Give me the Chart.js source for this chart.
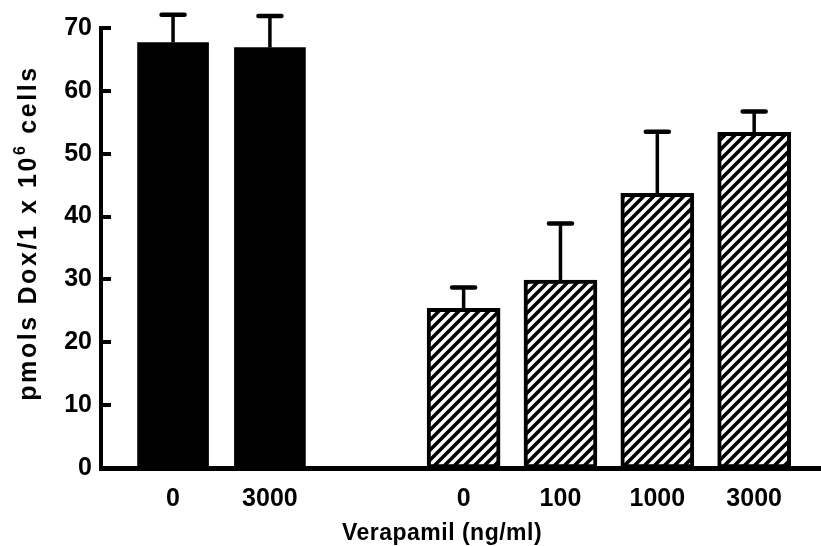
<!DOCTYPE html>
<html>
<head>
<meta charset="utf-8">
<script src="https://cdn.jsdelivr.net/npm/chart.js@4"></script>
<style>
  html, body { margin: 0; padding: 0; background: #fff; }
  #c { display: block; }
</style>
</head>
<body>
<canvas id="c" width="821" height="546"></canvas>
<script>
// ---- data ----
const categories = ['0', '3000', '', '0', '100', '1000', '3000'];   // x slots (blank = gap)
const controlSlots = [1, 2];
const controlValues = [67.7, 66.9];
const controlErrors = [4.4, 5.0];
const verapamilSlots = [4, 5, 6, 7];
const verapamilValues = [25.4, 29.9, 43.7, 53.4];
const verapamilErrors = [3.3, 9.0, 9.8, 3.3];
const yTickValues = [0, 10, 20, 30, 40, 50, 60, 70];
const yTitleMain = 'pmols Dox/1 x 10';
const yTitleSup = '6';
const yTitleEnd = ' cells';
const xTitle = 'Verapamil (ng/ml)';

const FONT = '"Liberation Sans", Arial, Helvetica, sans-serif';

// hatch pattern
function makeHatch() {
  const s = 10;
  const c = document.createElement('canvas');
  c.width = s; c.height = s;
  const g = c.getContext('2d');
  g.fillStyle = '#fff';
  g.fillRect(0, 0, s, s);
  g.strokeStyle = '#000';
  g.lineWidth = 3.6;
  g.lineCap = 'square';
  g.beginPath();
  g.moveTo(-s, 2 * s); g.lineTo(2 * s, -s);
  g.moveTo(-s, s); g.lineTo(s, -s);
  g.moveTo(0, 2 * s); g.lineTo(2 * s, 0);
  g.stroke();
  return c;
}
const ctx = document.getElementById('c').getContext('2d');
const hatch = ctx.createPattern(makeHatch(), 'repeat');

const errorBars = {
  id: 'errorBars',
  afterDatasetsDraw(chart) {
    const c = chart.ctx;
    const yScale = chart.scales.y;
    c.save();
    c.strokeStyle = '#000';
    chart.data.datasets.forEach((ds, di) => {
      const meta = chart.getDatasetMeta(di);
      meta.data.forEach((bar, i) => {
        const v = ds.data[i].y;
        const top = yScale.getPixelForValue(v + ds.errors[i]);
        c.lineWidth = 3.5;
        c.beginPath();
        c.moveTo(bar.x, bar.y);
        c.lineTo(bar.x, top);
        c.stroke();
        c.lineWidth = 4.5;
        c.lineCap = 'round';
        c.beginPath();
        c.moveTo(bar.x - 11.5, top);
        c.lineTo(bar.x + 11.5, top);
        c.stroke();
        c.lineCap = 'butt';
      });
    });
    c.restore();
  }
};

const axisExtras = {
  id: 'axisExtras',
  afterDraw(chart) {
    const c = chart.ctx;
    const y = chart.scales.y;
    const a = chart.chartArea;
    c.save();
    c.strokeStyle = '#000';
    c.lineWidth = 4;
    // inward tick marks on the y axis
    y.ticks.forEach(t => {
      const py = Math.round(y.getPixelForValue(t.value));
      c.beginPath();
      c.moveTo(a.left, py);
      c.lineTo(a.left + 10, py);
      c.stroke();
    });
    // base line running to the right edge
    c.lineWidth = 5;
    const by = y.getPixelForValue(0) + 0.5;
    c.beginPath();
    c.moveTo(a.left - 2, by);
    c.lineTo(chart.width, by);
    c.stroke();
    c.restore();
  }
};

const axisTitles = {
  id: 'axisTitles',
  afterDraw(chart) {
    const c = chart.ctx;
    c.save();
    c.fillStyle = '#000';
    // y title (rotated)
    c.translate(36, 233);
    c.rotate(-Math.PI / 2);
    c.letterSpacing = '2.6px';
    const big = 'bold 25px ' + FONT;
    const small = 'bold 16px ' + FONT;
    c.font = big;
    const w1 = c.measureText(yTitleMain).width;
    const w3 = c.measureText(yTitleEnd).width;
    c.font = small;
    const w2 = c.measureText(yTitleSup).width;
    let x = -(w1 + w2 + w3) / 2;
    c.textBaseline = 'alphabetic';
    c.textAlign = 'left';
    c.font = big;
    c.fillText(yTitleMain, x, 0);
    x += w1;
    c.font = small;
    c.fillText(yTitleSup, x, -11);
    x += w2;
    c.font = big;
    c.fillText(yTitleEnd, x, 0);
    c.restore();

    c.save();
    c.fillStyle = '#000';
    c.letterSpacing = '0.5px';
    c.font = 'bold 23px ' + FONT;
    c.textAlign = 'center';
    c.textBaseline = 'alphabetic';
    c.fillText(xTitle, 442, 540);
    c.restore();
  }
};

new Chart(ctx, {
  type: 'bar',
  data: {
    datasets: [
      {
        label: 'control',
        data: controlSlots.map((s, i) => ({ x: s, y: controlValues[i] })),
        errors: controlErrors,
        backgroundColor: '#000',
        borderWidth: 0,
        barThickness: 71,
        grouped: false
      },
      {
        label: 'verapamil',
        data: verapamilSlots.map((s, i) => ({ x: s, y: verapamilValues[i] })),
        errors: verapamilErrors,
        backgroundColor: hatch,
        borderColor: '#000',
        borderWidth: 4,
        borderSkipped: false,
        barThickness: 73,
        grouped: false
      }
    ]
  },
  options: {
    responsive: false,
    animation: false,
    events: [],
    layout: { padding: { top: 28, right: 0, bottom: 0, left: 0 } },
    plugins: { legend: { display: false }, tooltip: { enabled: false }, title: { display: false } },
    scales: {
      x: {
        type: 'linear',
        offset: false,
        bounds: 'data',
        min: 0.256,
        max: 7.69,
        grid: { display: false, offset: false },
        border: { display: false },
        afterBuildTicks(scale) {
          scale.ticks = categories
            .map((lab, i) => ({ value: i + 1, lab }))
            .filter(t => t.lab !== '')
            .map(t => ({ value: t.value }));
        },
        afterFit(scale) {
          scale.height = 78;
          scale.paddingLeft = 0;
          scale.paddingRight = 0;
        },
        ticks: {
          autoSkip: false,
          maxRotation: 0,
          padding: 8,
          color: '#000',
          font: { family: FONT, size: 25, weight: 'bold' },
          callback: (v) => categories[Math.round(v) - 1]
        }
      },
      y: {
        min: 0,
        max: 70,
        grid: { display: false },
        border: { display: true, color: '#000', width: 4 },
        afterBuildTicks(scale) {
          scale.ticks = yTickValues.map(v => ({ value: v }));
        },
        afterFit(scale) { scale.width = 101; },
        ticks: {
          padding: 1,
          color: '#000',
          font: { family: FONT, size: 25, weight: 'bold' }
        }
      }
    }
  },
  plugins: [errorBars, axisExtras, axisTitles]
});
</script>
</body>
</html>
